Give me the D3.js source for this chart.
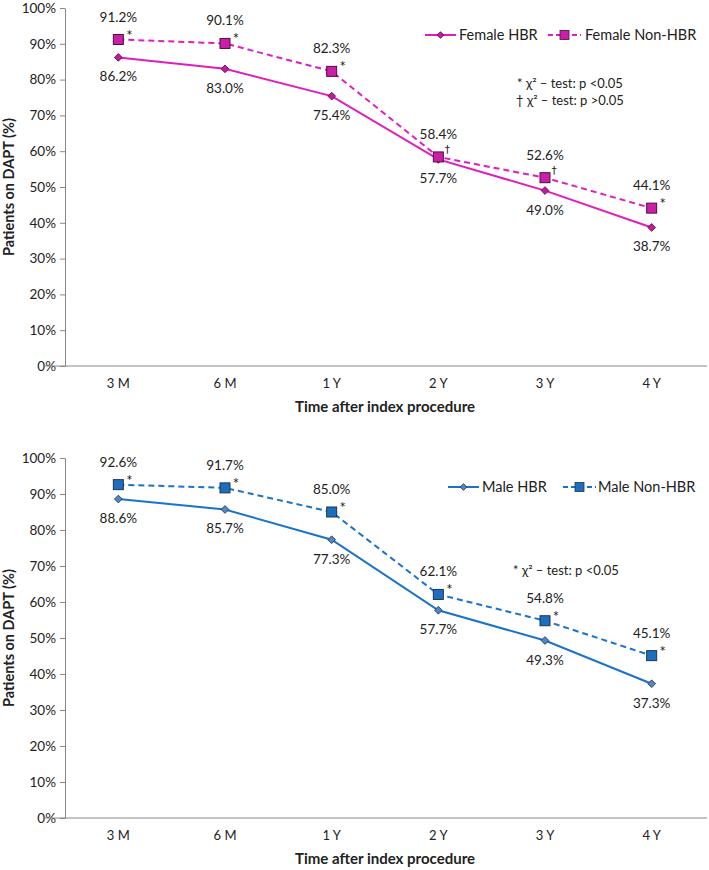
<!DOCTYPE html>
<html><head><meta charset="utf-8">
<script src="https://cdn.jsdelivr.net/npm/d3@7"></script>
<style>body{margin:0;background:#fff}svg{display:block}text{font-family:Lato,"Open Sans",sans-serif;fill:#222}</style>
</head><body>
<script>
const categories = ["3 M","6 M","1 Y","2 Y","3 Y","4 Y"];
const yTicks = [0,10,20,30,40,50,60,70,80,90,100];
const femaleHBR = [86.2,83.0,75.4,57.7,49.0,38.7];
const femaleNonHBR = [91.2,90.1,82.3,58.4,52.6,44.1];
const femaleSig = ["*","*","*","†","†","*"];
const maleHBR = [88.6,85.7,77.3,57.7,49.3,37.3];
const maleNonHBR = [92.6,91.7,85.0,62.1,54.8,45.1];
const maleSig = ["*","*","*","*","*","*"];
const femaleNotes = ["* χ² – test: p <0.05","† χ² – test: p >0.05"];
const maleNotes = ["* χ² –  test: p <0.05"];

const W=709,H=870;
const svg=d3.select("body").append("svg").attr("width",W).attr("height",H);

function panel(cfg){
  const g=svg.append("g");
  const x=d3.scaleBand().domain(categories).range([65,705]);
  const y=d3.scaleLinear().domain([0,100]).range([cfg.y0,cfg.y100]);
  const ya=g.append("g").attr("transform","translate(65,0)")
    .call(d3.axisLeft(y).tickValues(yTicks).tickFormat(d=>d+"%").tickSize(5).tickSizeOuter(0));
  ya.select(".domain").attr("stroke","#888").attr("stroke-width",1);
  ya.selectAll(".tick line").attr("stroke","#888");
  ya.selectAll(".tick text").attr("font-size",13.5).attr("fill","#333").attr("x",-9).style("font-family","Lato,sans-serif");
  const xa=g.append("g").attr("transform",`translate(0,${cfg.y0})`)
    .call(d3.axisBottom(x).tickSize(0).tickSizeOuter(0));
  xa.select(".domain").remove();
  g.append("line").attr("x1",44).attr("x2",707).attr("y1",cfg.y0).attr("y2",cfg.y0).attr("stroke","#888");
  xa.selectAll(".tick text").attr("font-size",13).attr("fill","#333").attr("dy","1.45em").style("font-family","Lato,sans-serif");
  g.append("text").attr("x",385).attr("y",cfg.y0+46).attr("text-anchor","middle")
    .attr("font-size",15).attr("font-weight","bold").attr("fill","#111").text("Time after index procedure");
  g.append("text").attr("transform",`translate(14,${(cfg.y0+cfg.y100)/2}) rotate(-90)`)
    .attr("text-anchor","middle").attr("font-size",14.5).attr("font-weight","bold").attr("fill","#111").text("Patients on DAPT (%)");
  const cx=d=>x(d)+x.bandwidth()/2;
  const line=d3.line().x((d,i)=>cx(categories[i])).y(d=>y(d));
  g.append("path").datum(cfg.nonhbr).attr("d",line).attr("fill","none").attr("stroke",cfg.line).attr("stroke-width",2).attr("stroke-dasharray","6,4");
  g.append("path").datum(cfg.hbr).attr("d",line).attr("fill","none").attr("stroke",cfg.line).attr("stroke-width",2);
  g.selectAll(".dm").data(cfg.hbr).join("path")
    .attr("d",d3.symbol().type(d3.symbolSquare).size(30)).attr("transform",(d,i)=>`translate(${cx(categories[i])},${y(d)}) rotate(45)`)
    .attr("fill",cfg.dfill).attr("stroke",cfg.mstroke).attr("stroke-width",0.8);
  g.selectAll(".sq").data(cfg.nonhbr).join("rect")
    .attr("x",(d,i)=>cx(categories[i])-5).attr("y",d=>y(d)-5).attr("width",10).attr("height",10)
    .attr("fill",cfg.sfill).attr("stroke",cfg.mstroke).attr("stroke-width",1);
  g.selectAll(".lh").data(cfg.hbr).join("text").attr("x",(d,i)=>cx(categories[i])).attr("y",d=>y(d)+24)
    .attr("text-anchor","middle").attr("font-size",13.5).text(d=>d.toFixed(1)+"%");
  g.selectAll(".ln").data(cfg.nonhbr).join("text").attr("x",(d,i)=>cx(categories[i])).attr("y",d=>y(d)-18)
    .attr("text-anchor","middle").attr("font-size",13.5).text(d=>d.toFixed(1)+"%");
  g.selectAll(".sg").data(cfg.nonhbr).join("text")
    .attr("x",(d,i)=>cx(categories[i])+(cfg.sig[i]==="*"?11:9))
    .attr("y",(d,i)=>y(d)+(cfg.sig[i]==="*"?1:-4))
    .attr("text-anchor","middle").attr("font-size",(d,i)=>cfg.sig[i]==="*"?15:10.5)
    .style("font-family",(d,i)=>cfg.sig[i]==="*"?"Lato,sans-serif":"'DejaVu Sans',sans-serif")
    .text((d,i)=>cfg.sig[i]);
  const L=cfg.legend;
  g.append("line").attr("x1",L.x1).attr("x2",L.x1+31).attr("y1",L.y).attr("y2",L.y).attr("stroke",cfg.line).attr("stroke-width",2);
  g.append("path").attr("d",d3.symbol().type(d3.symbolSquare).size(22)).attr("transform",`translate(${L.x1+15.5},${L.y}) rotate(45)`)
    .attr("fill",cfg.dfill).attr("stroke",cfg.mstroke).attr("stroke-width",0.8);
  g.append("text").attr("x",L.tx1).attr("y",L.y+5).attr("font-size",14.5).text(L.t1);
  g.append("line").attr("x1",L.x2).attr("x2",L.x2+33).attr("y1",L.y).attr("y2",L.y).attr("stroke",cfg.line).attr("stroke-width",2).attr("stroke-dasharray","5,3");
  g.append("rect").attr("x",L.x2+12).attr("y",L.y-4.5).attr("width",9).attr("height",9).attr("fill",cfg.sfill).attr("stroke",cfg.mstroke).attr("stroke-width",0.8);
  g.append("text").attr("x",L.tx2).attr("y",L.y+5).attr("font-size",14.5).text(L.t2);
  cfg.notes.forEach((n,i)=>{
    g.append("text").attr("x",cfg.noteX).attr("y",cfg.noteY+i*17).attr("text-anchor","middle").attr("font-size",13).text(n);
  });
}

panel({y0:366,y100:8,hbr:femaleHBR,nonhbr:femaleNonHBR,sig:femaleSig,line:"#E01EBE",dfill:"#C8189E",sfill:"#CC1FA8",mstroke:"#4a1040",
  legend:{x1:425,tx1:459,x2:548,tx2:585,y:35,t1:"Female HBR",t2:"Female Non-HBR"},notes:femaleNotes,noteX:570,noteY:88});
panel({y0:818,y100:458,hbr:maleHBR,nonhbr:maleNonHBR,sig:maleSig,line:"#1A72CC",dfill:"#5585C2",sfill:"#1E6EC0",mstroke:"#1d3550",
  legend:{x1:448,tx1:482,x2:563,tx2:598,y:487,t1:"Male HBR",t2:"Male Non-HBR"},notes:maleNotes,noteX:566,noteY:575});
</script>
</body></html>
